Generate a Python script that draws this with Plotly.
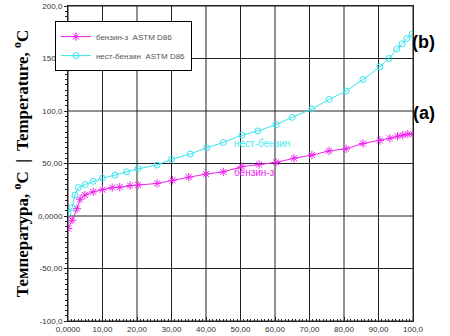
import plotly.graph_objects as go

# бензин-з (a)
x_a = [0, 1.2, 2.6, 3.5, 4.9, 7.3, 10, 12.8, 15, 18, 20.3, 25.8, 30.3, 35, 40, 45, 50.4, 55.4, 60.3, 65.5, 70.7, 75.7, 80.6, 85.5, 90.4, 93.3, 95.5, 97, 98.5, 100]
t_a = [-12, -4, 7, 16, 20, 23, 25, 27, 27.5, 29, 29.5, 31, 34, 37, 40, 42, 47, 49, 51, 55, 58, 62, 64, 69, 72, 74, 76, 77, 78, 78]

# нест-бензин (b)
x_b = [0, 1.2, 2, 3, 5, 7.3, 10, 13.6, 17, 20.3, 25.8, 30, 35.4, 40.2, 45, 50.4, 55, 60.3, 65, 70.7, 75.7, 80.6, 85.5, 90.4, 93, 95.3, 96.8, 98.2, 99.7]
t_b = [3, 8, 20, 27, 30, 33, 36, 39, 42, 45, 48.5, 54, 59, 65, 70, 77, 81, 87, 94, 102, 111, 119, 130, 142, 150, 159, 164, 169, 173]

x_ticks = [0, 10, 20, 30, 40, 50, 60, 70, 80, 90, 100]
x_tick_labels = ["0,0000", "10,00", "20,00", "30,00", "40,00", "50,00", "60,00", "70,00", "80,00", "90,00", "100,0"]
y_ticks = [-100, -50, 0, 50, 100, 150, 200]
y_tick_labels = ["-100,0", "-50,00", "0,0000", "50,00", "100,0", "150,0", "200,0"]

names = ["бензин-з  ASTM D86", "нест-бензин  ASTM D86"]
labels = ["бензин-з", "нест-бензин"]

fig = go.Figure()

# grid lines drawn at tick positions
for xv in x_ticks:
    fig.add_shape(type="line", xref="x", yref="paper", x0=xv, x1=xv, y0=0, y1=1,
                  line=dict(color="#222", width=1), layer="below")
for yv in y_ticks:
    fig.add_shape(type="line", xref="paper", yref="y", x0=0, x1=1, y0=yv, y1=yv,
                  line=dict(color="#222", width=1), layer="below")

fig.add_trace(go.Scatter(
    x=x_a, y=t_a, mode="lines+markers", name=names[0],
    line=dict(color="#ee22ee", width=1),
    marker=dict(symbol="asterisk-open", size=7, color="#ee22ee", line=dict(color="#ee22ee", width=1)),
))
fig.add_trace(go.Scatter(
    x=x_b, y=t_b, mode="lines+markers", name=names[1],
    line=dict(color="#33e5ee", width=1),
    marker=dict(symbol="circle-open", size=6, color="#33e5ee", line=dict(color="#33e5ee", width=1)),
))

fig.add_annotation(x=56.2, y=69.5, text=labels[1], showarrow=False,
                   font=dict(family="Arial", size=10, color="#44e8ee"))
fig.add_annotation(x=54.2, y=41, text=labels[0], showarrow=False,
                   font=dict(family="Arial", size=10, color="#ee22ee"))

fig.add_annotation(xref="paper", yref="paper", x=1.07, y=0.924, text="<b>(b)</b>",
                   showarrow=False, font=dict(family="Arial", size=18, color="black"))
fig.add_annotation(xref="paper", yref="paper", x=1.07, y=0.70, text="<b>(a)</b>",
                   showarrow=False, font=dict(family="Arial", size=18, color="black"))

fig.update_layout(
    width=450, height=336,
    margin=dict(l=68, r=37, t=6, b=15, autoexpand=False),
    paper_bgcolor="white", plot_bgcolor="white",
    font=dict(family="Arial", size=8, color="#333"),
    showlegend=True,
    legend=dict(x=-0.038, y=0.952, xanchor="left", yanchor="top",
                bgcolor="white", bordercolor="black", borderwidth=1,
                font=dict(family="Arial", size=8, color="#555"),
                tracegroupgap=0, itemwidth=30, entrywidth=112, entrywidthmode="pixels"),
    xaxis=dict(range=[0, 100], tickvals=x_ticks, ticktext=x_tick_labels,
               showgrid=False, automargin=False,
               showline=True, linecolor="#222", linewidth=1, mirror=True,
               ticks="inside", ticklen=4, tickcolor="#222",
               minor=dict(dtick=1, ticks="inside", ticklen=2, tickcolor="#222"),
               zeroline=False, tickfont=dict(size=8, color="#333")),
    yaxis=dict(range=[-100, 200], tickvals=y_ticks, ticktext=y_tick_labels,
               showgrid=False, automargin=False,
               showline=True, linecolor="#222", linewidth=1, mirror=True,
               ticks="outside", ticklen=3, tickcolor="#222",
               minor=dict(dtick=5, ticks="outside", ticklen=2, tickcolor="#222"),
               zeroline=False, tickfont=dict(size=8, color="#333"),
               title=dict(text="<b>Температура, <sup>o</sup>C  |  Temperature, <sup>o</sup>C</b>",
                          font=dict(family="Liberation Serif", size=17, color="black"),
                          standoff=4)),
)

fig.write_html("out.html", config={"displayModeBar": False},
               post_script="document.body.style.margin='0';")
